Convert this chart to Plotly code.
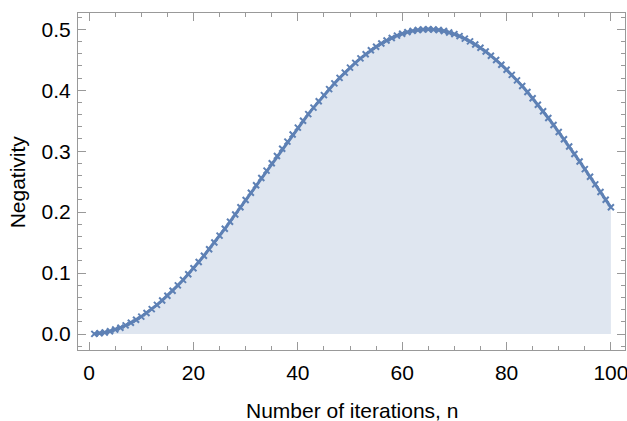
import plotly.graph_objects as go

iterations = list(range(1, 101))
negativity = [
    0.0003, 0.0012, 0.0026, 0.0047, 0.0073, 0.0104, 0.0142, 0.0185, 0.0233, 0.0286,
    0.0345, 0.0409, 0.0478, 0.0551, 0.0629, 0.0711, 0.0798, 0.0888, 0.0982, 0.1080,
    0.1181, 0.1285, 0.1392, 0.1502, 0.1614, 0.1727, 0.1843, 0.1961, 0.2079, 0.2199,
    0.2319, 0.2440, 0.2560, 0.2681, 0.2801, 0.2921, 0.3039, 0.3157, 0.3273, 0.3386,
    0.3498, 0.3608, 0.3715, 0.3819, 0.3920, 0.4018, 0.4112, 0.4203, 0.4289, 0.4371,
    0.4449, 0.4523, 0.4591, 0.4655, 0.4714, 0.4767, 0.4815, 0.4858, 0.4896, 0.4927,
    0.4953, 0.4974, 0.4988, 0.4997, 0.5000, 0.4997, 0.4988, 0.4971, 0.4948, 0.4921,
    0.4887, 0.4847, 0.4802, 0.4751, 0.4696, 0.4634, 0.4567, 0.4496, 0.4419, 0.4337,
    0.4252, 0.4162, 0.4068, 0.3970, 0.3868, 0.3763, 0.3655, 0.3544, 0.3430, 0.3314,
    0.3196, 0.3076, 0.2953, 0.2831, 0.2706, 0.2581, 0.2455, 0.2330, 0.2204, 0.2079,
]
x_ticks = [0, 20, 40, 60, 80, 100]
y_ticks = [0.0, 0.1, 0.2, 0.3, 0.4, 0.5]
y_tick_labels = ["0.0", "0.1", "0.2", "0.3", "0.4", "0.5"]
x_title = "Number of iterations, n"
y_title = "Negativity"

color = "#5E81B5"
fig = go.Figure()
fig.add_trace(go.Scatter(
    x=iterations, y=negativity, mode="lines+markers",
    line=dict(color=color, width=3),
    marker=dict(color=color, size=6, symbol="x-thin", line=dict(color=color, width=2)),
    fill="tozeroy", fillcolor="rgba(94,129,181,0.2)",
    showlegend=False,
))

font = dict(family="Liberation Sans, Arial, sans-serif", color="black")
axis_common = dict(
    showline=True, linecolor="#999999", linewidth=1, mirror="allticks",
    ticks="inside", ticklen=8, tickcolor="#999999", tickwidth=1,
    showgrid=False, zeroline=False, automargin=False,
    ticklabeloverflow="allow",
    tickfont=dict(size=21, **font),
)
fig.update_xaxes(
    range=[-2.13, 102.7], tickvals=x_ticks,
    minor=dict(dtick=5, tick0=0, ticks="inside", ticklen=4, tickcolor="#999999", showgrid=False),
    ticklabelstandoff=4,
    **axis_common,
)
fig.update_yaxes(
    range=[-0.0262, 0.5267], tickvals=y_ticks, ticktext=y_tick_labels,
    minor=dict(dtick=0.02, tick0=0, ticks="inside", ticklen=4, tickcolor="#999999", showgrid=False),
    ticklabelstandoff=2,
    **axis_common,
)
fig.add_annotation(
    text=x_title, xref="paper", yref="paper", x=0.5, y=-0.18,
    xanchor="center", yanchor="middle", showarrow=False,
    font=dict(size=21, **font),
)
fig.add_annotation(
    text=y_title, xref="paper", yref="paper", x=-0.11, y=0.5,
    xanchor="center", yanchor="middle", showarrow=False, textangle=-90,
    font=dict(size=21, **font),
)
fig.update_layout(
    width=627, height=421,
    margin=dict(l=78, r=2, t=13, b=71),
    plot_bgcolor="white", paper_bgcolor="white",
)
fig.write_html(
    "out.html",
    config={"displayModeBar": False},
    post_script="document.body.style.margin='0px';document.body.style.overflow='hidden';",
)
